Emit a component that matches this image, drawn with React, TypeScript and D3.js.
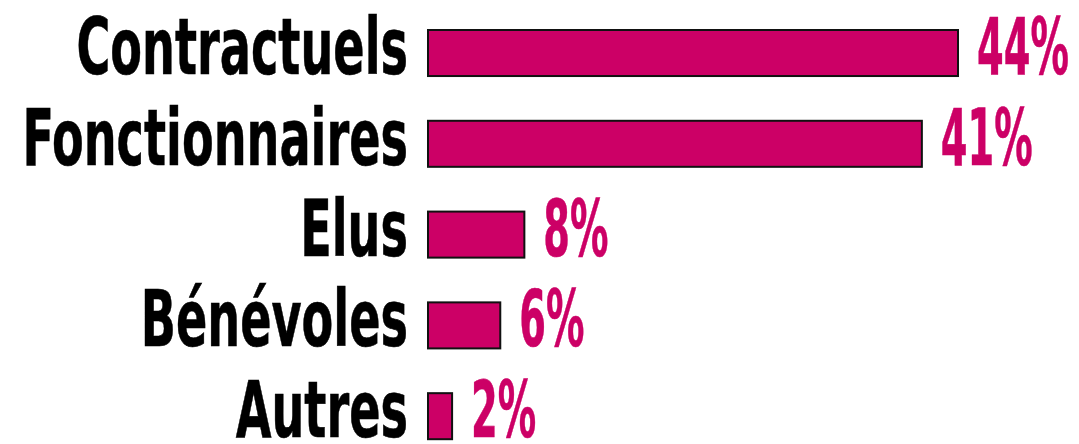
import React from "react";
import * as d3 from "d3";

const categories = ["Contractuels", "Fonctionnaires", "Elus", "Bénévoles", "Autres"];
const values = [44, 41, 8, 6, 2];
const valueLabels = ["44%", "41%", "8%", "6%", "2%"];

const W = 1079;
const H = 444;
const FONT = "'DejaVu Sans Condensed', 'DejaVu Sans', sans-serif";

export default function App() {
  const y = d3.scaleBand<string>().domain(categories).range([30, 439.2]).paddingInner(0.493).paddingOuter(0);
  const x = d3.scaleLinear().domain([0, d3.max(values) as number]).range([428, 958]);
  const bw = y.bandwidth();
  const labelScale = 0.65;
  const valueScale = 0.54;
  return (
    <div>
      <style>{`body{margin:0}`}</style>
      <svg width={W} height={H} style={{ display: "block", background: "#fff" }}>
        {categories.map((c, i) => {
          const cy = (y(c) as number) + bw / 2;
          const x1 = x(values[i]);
          return (
            <g key={c}>
              <rect
                x={x(0)}
                y={y(c) as number}
                width={x1 - x(0)}
                height={bw}
                fill="#CC0066"
                stroke="#111"
                strokeWidth={2}
              />
              <text
                transform={`translate(408,${cy + 21}) scale(${labelScale},1)`}
                textAnchor="end"
                fontFamily={FONT}
                fontWeight="bold"
                fontSize={79}
                fill="#000"
                stroke="#000"
                strokeWidth={0.6}
              >
                {c}
              </text>
              <text
                transform={`translate(${x1 + 19},${cy + 21}) scale(${valueScale},1)`}
                textAnchor="start"
                fontFamily={FONT}
                fontWeight="bold"
                fontSize={79}
                fill="#CC0066"
                stroke="#CC0066"
                strokeWidth={0.6}
              >
                {valueLabels[i]}
              </text>
            </g>
          );
        })}
      </svg>
    </div>
  );
}
